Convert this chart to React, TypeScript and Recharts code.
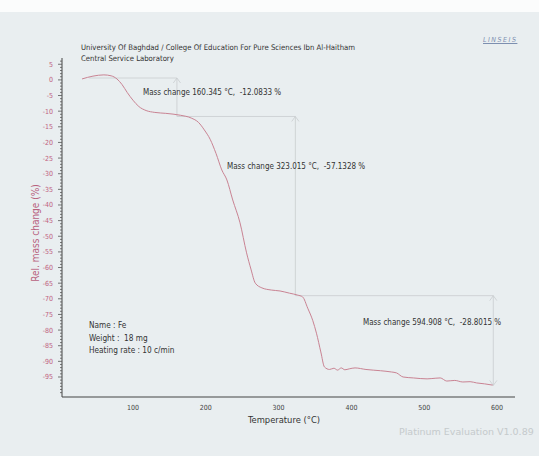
import React from 'react';
import { LineChart, Line, XAxis, YAxis, ReferenceLine } from 'recharts';

// temperature (°C) and relative mass change (%)
const temps = [30, 45, 60, 70, 78, 85, 92, 100, 108, 118, 130, 145, 165, 180, 190, 198, 206, 214, 222, 229, 237, 247, 256, 262, 268, 277, 290, 302, 315, 326, 333, 340, 347, 352, 358, 363, 370, 376, 381, 386, 391, 397, 405, 420, 440, 455, 462, 471, 485, 504, 515, 522, 531, 542, 553, 563, 572, 583, 594];
const massChange = [0.3, 1.2, 1.6, 1.3, 0.3, -1.5, -4, -6.5, -8.5, -9.8, -10.4, -10.7, -11.3, -12.2, -13.6, -16, -19, -23.5, -28.8, -32, -38.4, -45.7, -55.3, -60.5, -65, -66.5, -67.2, -67.5, -68.2, -68.8, -69.4, -73, -77, -81, -87, -91.8, -92.6, -92.2, -92.8, -92.1, -92.7, -92.4, -92.1, -92.6, -93.0, -93.4, -93.7, -95.0, -95.3, -95.6, -95.4, -95.3, -96.3, -96.1, -96.6, -96.5, -96.9, -97.2, -97.6];

const X_TICKS = [100, 200, 300, 400, 500, 600];
const Y_TICKS = [5, 0, -5, -10, -15, -20, -25, -30, -35, -40, -45, -50, -55, -60, -65, -70, -75, -80, -85, -90, -95];
const Y_MINOR = Array.from({ length: 107 }, (_, i) => 6 - i);

// mass-change step markers: temperature, top / bottom level (%), start of the top guide
const steps = [
  { t: 160.345, top: 0.6, bottom: -11.7, left: 40 },
  { t: 323.015, top: -11.7, bottom: -69, left: 160.345 },
  { t: 594.908, top: -69, bottom: -97.7, left: 323.015 },
];

const data = temps.map((t, i) => ({ t, m: massChange[i] }));

const FONT = '"DejaVu Sans Condensed", "DejaVu Sans", Verdana, sans-serif';
const GUIDE = '#c9cdcf';
const CURVE = '#c98393';

function YTick(props: any) {
  const { x, y, payload } = props;
  const major = Y_TICKS.includes(payload.value);
  return (
    <g>
      <line x1={x + 8} x2={x + (major ? 4 : 6)} y1={y} y2={y} stroke="#555" strokeWidth={0.8} />
      {major && (
        <text x={x - 1} y={y + 2.5} textAnchor="end" fontSize={7} fill="#c0607e" fontFamily={FONT}>
          {payload.value}
        </text>
      )}
    </g>
  );
}

export default function App() {
  return (
    <div style={{ position: 'absolute', left: 0, top: 0, width: 539, height: 456, background: '#e9eef0', fontFamily: FONT, overflow: 'hidden' }}>
      <div style={{ position: 'absolute', left: 0, top: 0, width: 539, height: 12, background: '#fbfcfc' }} />
      <div style={{ position: 'absolute', left: 0, top: 0 }}>
        <LineChart width={539} height={456} data={data} margin={{ top: 58, right: 24, bottom: 39, left: 32 }}>
          <XAxis
            dataKey="t"
            type="number"
            domain={[2.5, 624.7]}
            ticks={X_TICKS}
            tickLine={false}
            axisLine={{ stroke: '#444', strokeWidth: 1.2 }}
            tick={{ fontSize: 7, fill: '#444', fontFamily: FONT }}
            height={20}
          />
          <YAxis
            type="number"
            domain={[-101.4, 7]}
            ticks={Y_MINOR}
            interval={0}
            tickLine={false}
            axisLine={{ stroke: '#444', strokeWidth: 1 }}
            tick={<YTick />}
            width={30}
          />
          {steps.map((s, i) => (
            <ReferenceLine key={`h${i}`} segment={[{ x: s.left, y: s.top }, { x: s.t, y: s.top }]} stroke={GUIDE} strokeWidth={0.8} />
          ))}
          {steps.map((s, i) => (
            <ReferenceLine key={`v${i}`} segment={[{ x: s.t, y: s.top }, { x: s.t, y: s.bottom }]} stroke={GUIDE} strokeWidth={0.8} />
          ))}
          {steps.map((s, i) => (
            <ReferenceLine key={`al${i}`} segment={[{ x: s.t - 5, y: s.top - 1.6 }, { x: s.t, y: s.top }]} stroke={GUIDE} strokeWidth={0.8} />
          ))}
          {steps.map((s, i) => (
            <ReferenceLine key={`ar${i}`} segment={[{ x: s.t + 5, y: s.top - 1.6 }, { x: s.t, y: s.top }]} stroke={GUIDE} strokeWidth={0.8} />
          ))}
          <ReferenceLine segment={[{ x: 589.9, y: -96.1 }, { x: 594.908, y: -97.7 }]} stroke={GUIDE} strokeWidth={0.8} />
          <ReferenceLine segment={[{ x: 599.9, y: -96.1 }, { x: 594.908, y: -97.7 }]} stroke={GUIDE} strokeWidth={0.8} />
          <Line dataKey="m" type="monotone" stroke={CURVE} strokeWidth={1} dot={false} isAnimationActive={false} />
        </LineChart>
      </div>

      <div style={{ position: 'absolute', left: 81, top: 42, fontSize: 7.7, color: '#333', lineHeight: '11px', whiteSpace: 'nowrap' }}>
        University Of Baghdad / College Of Education For Pure Sciences Ibn Al-Haitham
        <br />
        Central Service Laboratory
      </div>
      <div style={{ position: 'absolute', left: 483, top: 36, fontSize: 7, color: '#7d8fb0', fontStyle: 'italic', letterSpacing: 1.5, textDecoration: 'underline' }}>
        LINSEIS
      </div>

      <div style={{ position: 'absolute', left: 143, top: 88, fontSize: 8, color: '#333', whiteSpace: 'pre' }}>
        Mass change 160.345 °C,  -12.0833 %
      </div>
      <div style={{ position: 'absolute', left: 227, top: 162, fontSize: 8, color: '#333', whiteSpace: 'pre' }}>
        Mass change 323.015 °C,  -57.1328 %
      </div>
      <div style={{ position: 'absolute', left: 363, top: 318, fontSize: 8, color: '#333', whiteSpace: 'pre' }}>
        Mass change 594.908 °C,  -28.8015 %
      </div>

      <div style={{ position: 'absolute', left: 89, top: 319, fontSize: 8.2, color: '#333', lineHeight: '12.5px', whiteSpace: 'pre' }}>
        Name : Fe
        <br />
        Weight :  18 mg
        <br />
        Heating rate : 10 c/min
      </div>

      <div style={{ position: 'absolute', left: 35, top: 233, width: 0, height: 0 }}>
        <div style={{ position: 'absolute', transform: 'translate(-50%, -50%) rotate(-90deg)', whiteSpace: 'nowrap', fontSize: 10, color: '#b8617e' }}>
          Rel. mass change (%)
        </div>
      </div>
      <div style={{ position: 'absolute', left: 248, top: 414, fontSize: 9.3, color: '#333' }}>Temperature (°C)</div>
      <div style={{ position: 'absolute', left: 399, top: 426, fontSize: 9.5, color: '#c5cacc', fontFamily: '"DejaVu Sans", sans-serif' }}>
        Platinum Evaluation V1.0.89
      </div>
    </div>
  );
}
